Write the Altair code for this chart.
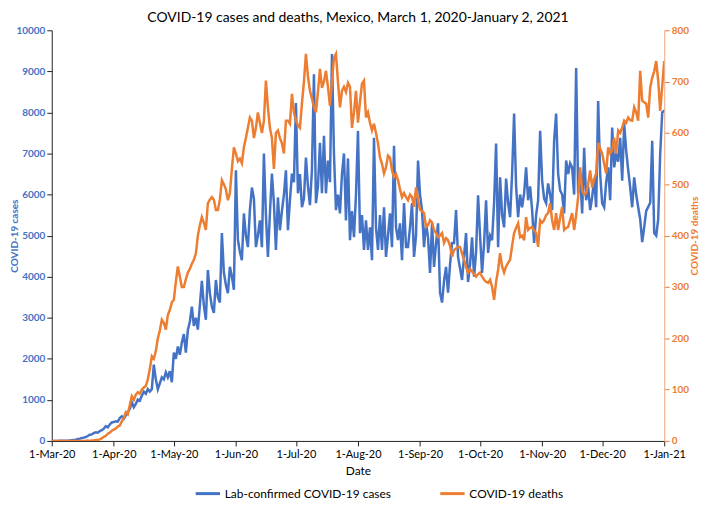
import altair as alt
import pandas as pd

# ---- data ----
mar_cases = [0, 0, 0, 1, 2, 3, 4, 5, 6, 10, 15, 20, 30, 45, 55, 70, 80, 95, 120, 150,
             160, 190, 210, 200, 240, 260, 300, 360, 330, 400, 450]
apr_cases = [460, 480, 470, 560, 600, 540, 620, 700, 780, 940, 820, 900, 1010, 980, 1100, 1200, 1150, 1260, 1200, 1260,
             1860, 1500, 1260, 1400, 1550, 1500, 1670, 1550, 1700, 1430]
may_cases = [2150, 2000, 2300, 2100, 2400, 2600, 2150, 2700, 2900, 3270, 2800, 3000, 2710, 3300, 3900, 3300, 2950, 4160, 3600, 3270,
             3120, 3920, 3500, 3370, 5060, 4100, 3800, 3600, 4240, 4000, 3680]
jun_cases = [6590, 4900, 4600, 4400, 5540, 5000, 4720, 5620, 6170, 5900, 4720, 5000, 5370, 4720, 7000, 5500, 4480, 5540, 6510, 5790,
             4650, 5930, 5130, 5600, 6000, 6590, 5130, 5860, 6510, 6300]
jul_cases = [8230, 6030, 6500, 5690, 5900, 6900, 6200, 5740, 6600, 8930, 5790, 6200, 7260, 6030, 7430, 6030, 6830, 6300, 9420, 7000,
             5620, 6000, 5540, 6500, 7000, 5370, 6880, 4890, 5600, 4960, 6000]
aug_cases = [7550, 5060, 5500, 4650, 5370, 4650, 5200, 4400, 7380, 5200, 4650, 5500, 4650, 5690, 4480, 5000, 5540, 4720, 7190, 5200,
             4890, 5300, 4400, 5790, 4720, 4720, 5200, 5790, 4480, 5000, 6830]
sep_cases = [6000, 5620, 4720, 5300, 4960, 4090, 5300, 4240, 4800, 5300, 3610, 3370, 3900, 4240, 3610, 4300, 4820, 4820, 5620, 4480,
             4200, 3920, 4500, 5060, 3870, 4300, 4960, 4000, 4600, 5980]
oct_cases = [5000, 4090, 4800, 5860, 4580, 5000, 4890, 5800, 7240, 4720, 6420, 5500, 5200, 6390, 5800, 5450, 6500, 7970, 6200, 5450,
             6000, 5690, 6030, 6660, 5860, 6200, 5620, 4820, 5500, 5860, 7550]
nov_cases = [6340, 5900, 5790, 6270, 6000, 5620, 7310, 7970, 6500, 6100, 6000, 5540, 6830, 6500, 6760, 6660, 6000, 9080, 6030, 6500,
             5540, 7140, 5860, 6200, 5620, 5930, 6400, 5690, 8280, 6500]
dec_jan_cases = [5790, 5690, 6300, 6660, 5860, 7630, 6660, 7000, 6800, 7380, 6340, 7720, 7070, 6600, 6170, 5690, 6420, 6000, 5690, 5400,
                 4840, 5200, 5600, 5700, 5800, 7310, 5060, 5000, 5400, 7000, 8000, 8040, 8000]

mar_deaths = [0, 0, 0, 0, 0, 0, 0, 0, 0, 0, 0, 0, 0, 0, 0, 0, 0, 0, 1, 0,
              1, 1, 2, 2, 3, 5, 8, 10, 14, 16, 20]
apr_deaths = [22, 24, 28, 30, 38, 45, 56, 52, 70, 87, 80, 90, 95, 92, 100, 104, 107, 120, 140, 165,
              160, 175, 200, 215, 236, 230, 217, 245, 255, 270]
may_deaths = [275, 310, 340, 320, 300, 300, 315, 328, 335, 345, 353, 365, 400, 420, 436, 425, 411, 463, 470, 475,
              470, 450, 450, 470, 508, 500, 490, 469, 483, 530, 572]
jun_deaths = [560, 545, 550, 541, 572, 590, 610, 630, 624, 590, 610, 640, 620, 600, 624, 702, 650, 610, 590, 530,
              600, 605, 590, 580, 560, 624, 624, 618, 676, 640]
jul_deaths = [624, 615, 610, 657, 700, 754, 710, 682, 667, 650, 640, 680, 725, 688, 700, 721, 690, 653, 700, 746,
              754, 700, 650, 682, 690, 680, 698, 690, 610, 640, 682]
aug_deaths = [620, 660, 696, 702, 630, 640, 620, 605, 618, 600, 580, 552, 540, 521, 533, 556, 552, 527, 514, 520,
              508, 490, 475, 483, 475, 469, 480, 475, 456, 494, 470]
sep_deaths = [450, 448, 444, 417, 420, 430, 426, 411, 405, 397, 400, 405, 386, 395, 391, 380, 359, 372, 375, 378,
              378, 365, 353, 339, 328, 335, 330, 325, 320, 325]
oct_deaths = [328, 320, 314, 310, 308, 314, 300, 275, 310, 333, 366, 340, 328, 340, 347, 353, 380, 405, 415, 424,
              397, 400, 391, 436, 411, 415, 417, 410, 405, 378, 430]
nov_deaths = [425, 430, 440, 444, 463, 430, 411, 444, 411, 435, 456, 411, 415, 417, 430, 444, 411, 440, 475, 533,
              488, 480, 483, 500, 527, 494, 510, 521, 581, 570]
dec_jan_deaths = [560, 540, 521, 572, 560, 566, 591, 560, 605, 600, 610, 624, 620, 630, 625, 624, 650, 640, 624, 721,
                  663, 660, 657, 630, 688, 708, 720, 740, 702, 643, 690, 740, 700]

cases = (mar_cases + apr_cases + may_cases + jun_cases + jul_cases + aug_cases
         + sep_cases + oct_cases + nov_cases + dec_jan_cases)
deaths = (mar_deaths + apr_deaths + may_deaths + jun_deaths + jul_deaths + aug_deaths
          + sep_deaths + oct_deaths + nov_deaths + dec_jan_deaths)
dates = pd.date_range("2020-03-01", "2021-01-02", freq="D").strftime("%Y-%m-%d").tolist()

series_names = ["Lab-confirmed COVID-19 cases", "COVID-19 deaths"]

df = pd.DataFrame({"date": dates, "cases": cases, "deaths": deaths})

BLUE = "#4472C4"
ORANGE = "#ED7D31"
FONT = "Lato"
W, H = 616, 413

tick_months = [(2020, m) for m in range(3, 13)] + [(2021, 1)]
x_values = [alt.DateTime(year=y, month=m, date=1, utc=True) for y, m in tick_months]

x_enc = alt.X(
    "date:T",
    scale=alt.Scale(type="utc",
                    domain=[alt.DateTime(year=2020, month=3, date=1, utc=True),
                            alt.DateTime(year=2021, month=1, date=1, utc=True)]),
    axis=alt.Axis(values=x_values,
                  labelExpr="utcFormat(datum.value, '%-d-%b-%y')",
                  title="Date", grid=False, labelFont=FONT, labelFontSize=11,
                  labelColor="#000", titleFont=FONT, titleFontSize=12,
                  titleFontWeight="normal", titleColor="#000", titlePadding=6,
                  domainColor="#222", tickColor="#222", tickSize=5, labelPadding=3,
                  labelFlush=False, labelOverlap=False),
)

legend = alt.Legend(orient="none", legendX=143, legendY=452, direction="horizontal",
                    title=None, symbolType="stroke", symbolStrokeWidth=3, symbolSize=600,
                    labelFont=FONT, labelFontSize=12, labelColor="#000", labelLimit=0,
                    columnPadding=42, labelOffset=3)
color_scale = alt.Scale(domain=series_names, range=[BLUE, ORANGE])

base = alt.Chart(df)

cases_line = base.transform_calculate(series=f"'{series_names[0]}'").mark_line(
    strokeWidth=2.5, clip=True).encode(
    x=x_enc,
    y=alt.Y("cases:Q", scale=alt.Scale(domain=[0, 10000]),
            axis=alt.Axis(title="COVID-19 cases", values=list(range(0, 10001, 1000)),
                          format="d", grid=False, labelFont=FONT, labelFontSize=10,
                          labelFontWeight="bold", labelColor=BLUE, titleFont=FONT,
                          titleFontSize=10, titleFontWeight="bold", titleColor=BLUE,
                          titleAngle=270, titleAlign="center", titleBaseline="bottom",
                          titleX=-32, titleY=H / 2,
                          domainColor="#222", tickColor="#222", tickSize=5,
                          labelPadding=2)),
    color=alt.Color("series:N", scale=color_scale, legend=legend),
)

deaths_line = base.transform_calculate(series=f"'{series_names[1]}'").mark_line(
    strokeWidth=2.5, clip=True).encode(
    x=x_enc,
    y=alt.Y("deaths:Q", scale=alt.Scale(domain=[0, 800]),
            axis=alt.Axis(orient="right", title="COVID-19 deaths",
                          values=list(range(0, 801, 100)), format="d", grid=False,
                          labelFont=FONT, labelFontSize=10, labelFontWeight="bold",
                          labelColor=ORANGE, titleFont=FONT, titleFontSize=10,
                          titleFontWeight="bold", titleColor=ORANGE, titleAngle=270,
                          titleAlign="center", titleBaseline="bottom",
                          titleX=35, titleY=H / 2,
                          domainColor="#EBA880", tickColor=ORANGE, tickSize=5,
                          labelPadding=2)),
    color=alt.Color("series:N", scale=color_scale, legend=legend),
)

chart = (
    alt.layer(cases_line, deaths_line)
    .resolve_scale(y="independent")
    .properties(
        width=W, height=H,
        title=alt.TitleParams("COVID-19 cases and deaths, Mexico, March 1, 2020-January 2, 2021",
                              font=FONT, fontSize=14, fontWeight="normal", color="#000",
                              anchor="middle", offset=0),
        autosize=alt.AutoSizeParams(type="none"),
        padding={"left": 44, "top": 21, "right": 37, "bottom": 60},
    )
    .configure_view(stroke=None)
)

chart.save("out.html", embed_options={"renderer": "svg", "actions": False})
